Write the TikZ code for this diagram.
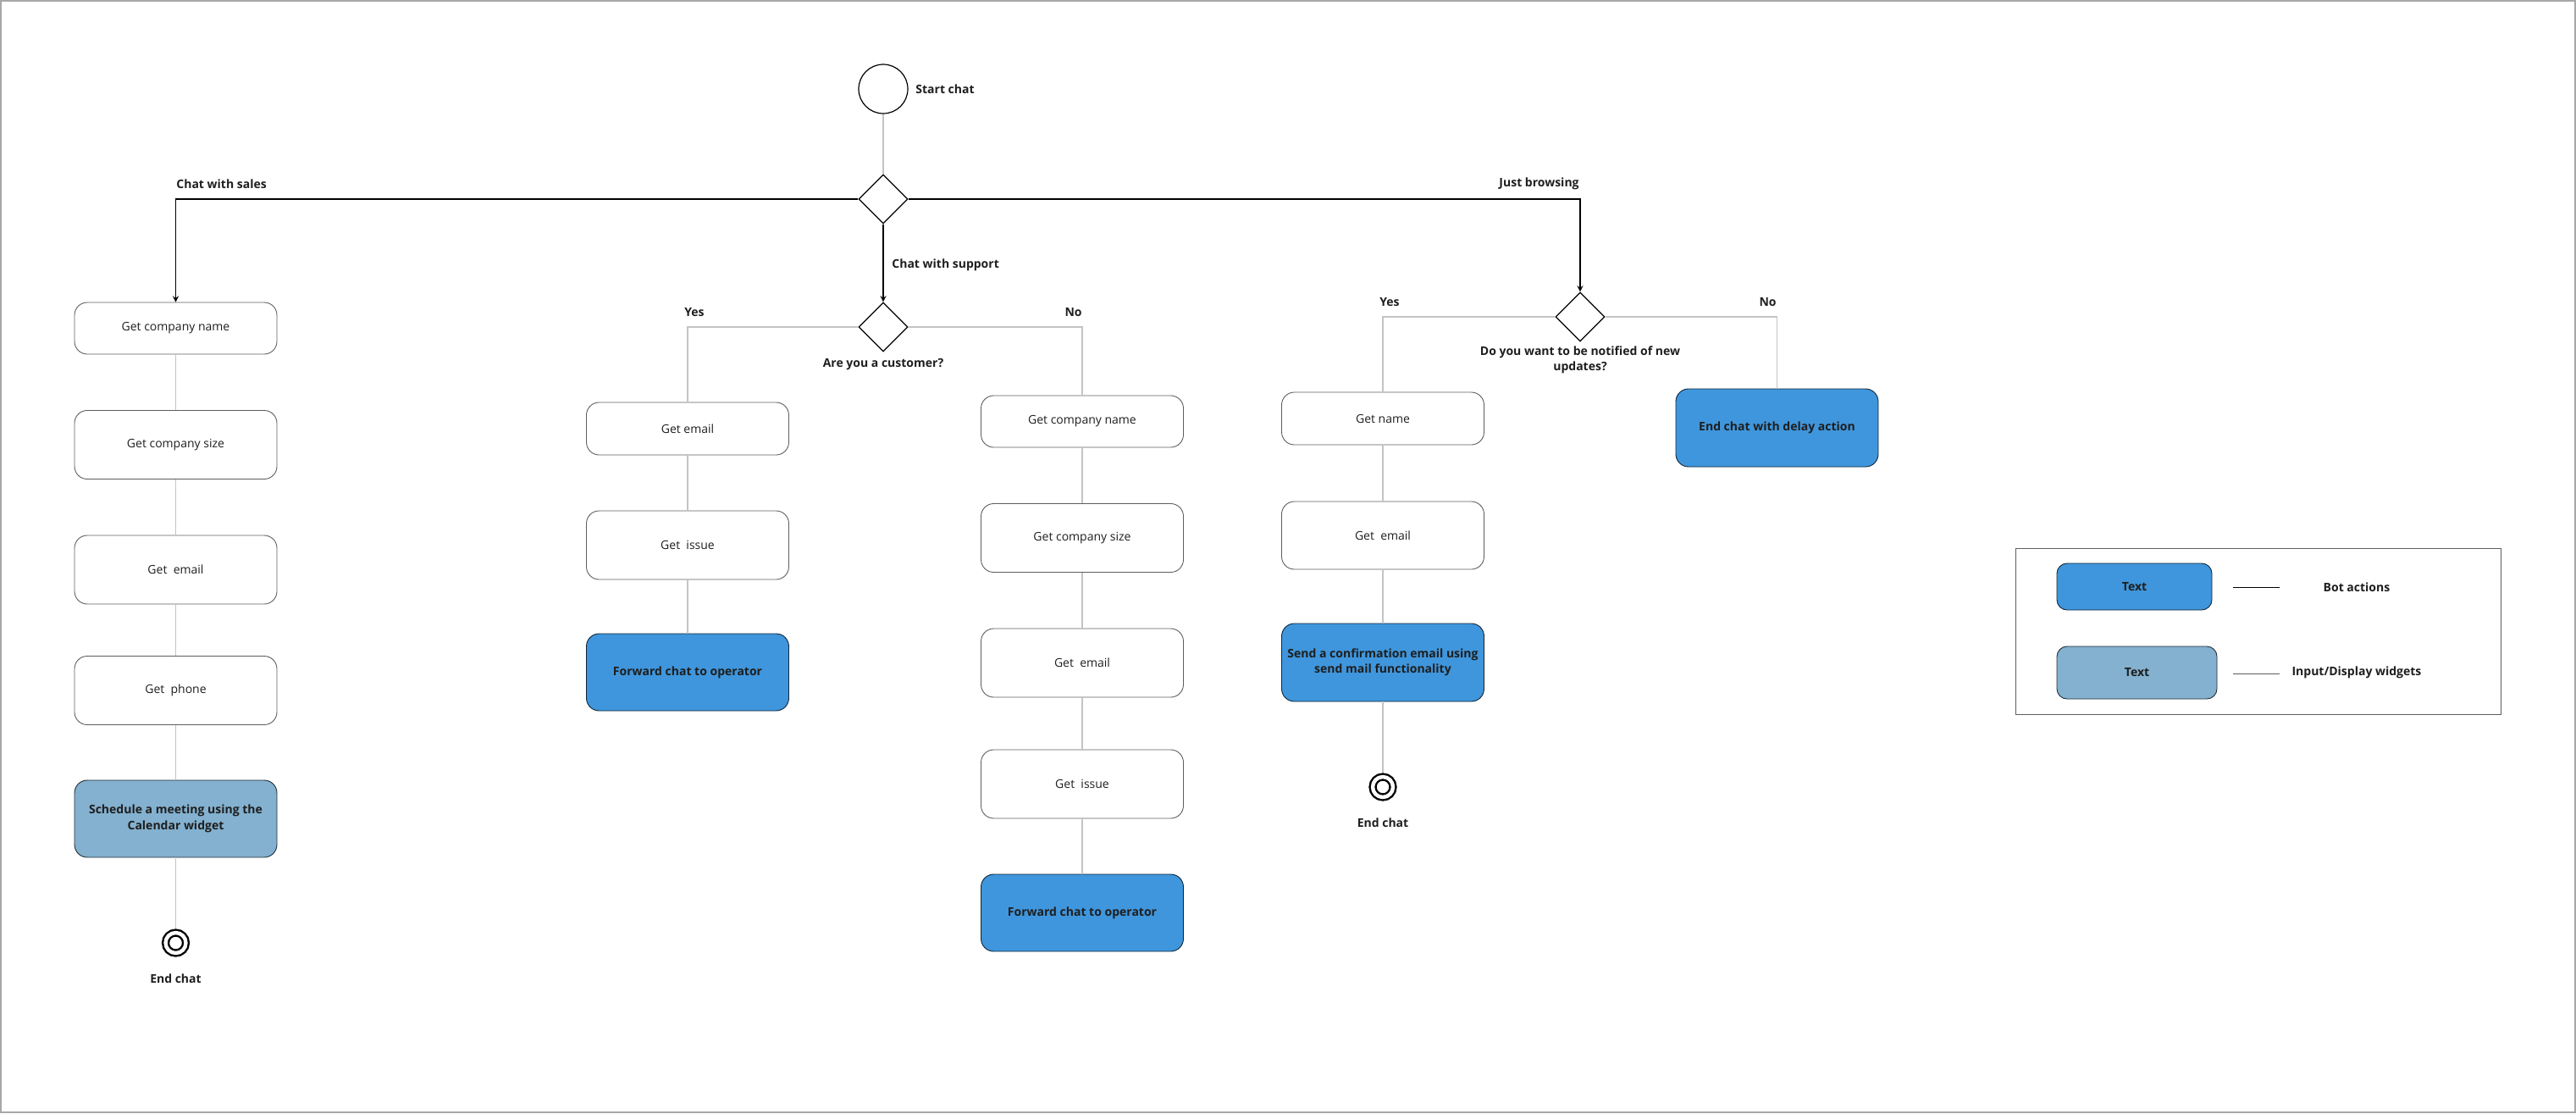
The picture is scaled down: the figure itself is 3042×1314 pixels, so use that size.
\documentclass[tikz,border=0pt]{standalone}
\usepackage{fontspec}
\setmainfont{Open Sans}
\usetikzlibrary{shapes.geometric, arrows}
\definecolor{botblue}{HTML}{3F96DC}
\definecolor{widgetblue}{HTML}{83B1CF}
\definecolor{linegray}{HTML}{C4C4C4}
\definecolor{boxgray}{HTML}{5E5E5E}
\definecolor{framegray}{HTML}{A8A8A8}
\definecolor{inkdark}{HTML}{1E1E1E}
\newcommand{\plainfont}{\fontsize{7}{9.3}\selectfont}
\newcommand{\labelfont}{\bfseries\fontsize{7}{9.3}\selectfont}
\tikzstyle{startstop} = [circle, minimum size=29pt, inner sep=0pt, draw=black, line width=0.6pt]
\tikzstyle{endstop} = [circle, minimum size=12pt, inner sep=0pt, draw=black, line width=1.2pt, double, double distance=2.2pt, outer sep=2.4pt]
\tikzstyle{decision} = [diamond, minimum size=29pt, inner sep=0pt, draw=black, line width=0.6pt]
\tikzstyle{process} = [rectangle, rounded corners=7.5pt, minimum width=119.5pt, minimum height=40.5pt, text centered, align=center, draw=boxgray, line width=0.45pt, text=inkdark, font=\plainfont]
\tikzstyle{botaction} = [process, fill=botblue, draw=black!75!botblue, font=\labelfont, minimum height=45.5pt]
\tikzstyle{widget} = [process, fill=widgetblue, draw=black!75!widgetblue, font=\labelfont, minimum height=45.5pt]
\tikzstyle{lbl} = [inner sep=0pt, text=inkdark, font=\labelfont, align=center]
\tikzstyle{arrow} = [line width=0.6pt,->,>=stealth]
\tikzstyle{link} = [draw=linegray, line width=0.6pt]

\begin{document}
\begin{tikzpicture}[x=0.5pt, y=-0.5pt]
\useasboundingbox (0,0) rectangle (3042,1314);
\draw [framegray, line width=1pt] (1,1) rectangle (3041,1313);

% start and decisions
\node (start) [startstop] at (1043,105) {};
\node (d1) [decision, below of=start, node distance=65pt] {};
\node (d2) [decision, below of=d1, node distance=75.5pt] {};
\node (d3) [decision] at (1866,374) {};

% chat with sales
\node (sname) [process, minimum height=30.5pt] at (207.5,387.5) {Get company name};
\node (ssize) [process, below of=sname, node distance=68.75pt] {Get company size};
\node (semail) [process, below of=ssize, node distance=73.75pt] {Get~~email};
\node (sphone) [process, below of=semail, node distance=71.25pt] {Get~~phone};
\node (sched) [widget, below of=sphone, node distance=75.75pt] {Schedule a meeting using the\\Calendar widget};
\node (send) [endstop, below of=sched, node distance=73.25pt] {};

% chat with support, yes
\node (yemail) [process, minimum height=31pt] at (812,506) {Get email};
\node (yissue) [process, below of=yemail, node distance=68.75pt] {Get~~issue};
\node (yfwd) [botaction, below of=yissue, node distance=75pt] {Forward chat to operator};

% chat with support, no
\node (nname) [process, minimum height=30.5pt] at (1278,497.5) {Get company name};
\node (nsize) [process, below of=nname, node distance=68.75pt] {Get company size};
\node (nemail) [process, below of=nsize, node distance=73.75pt] {Get~~email};
\node (nissue) [process, below of=nemail, node distance=71.5pt] {Get~~issue};
\node (nfwd) [botaction, below of=nissue, node distance=76pt] {Forward chat to operator};

% just browsing
\node (bname) [process, minimum height=31pt] at (1633,494) {Get name};
\node (bemail) [process, minimum height=40pt, below of=bname, node distance=69pt] {Get~~email};
\node (bsend) [botaction, minimum height=46pt, below of=bemail, node distance=75pt] {Send a confirmation email using\\send mail functionality};
\node (bend) [endstop, below of=bsend, node distance=73.5pt] {};
\node (delay) [botaction, minimum height=46pt] at (2098.5,505) {End chat with delay action};

% labels
\node (startlbl) [lbl, anchor=west] at (1081,105) {Start chat};
\node (saleslbl) [lbl, anchor=west] at (208,217) {Chat with sales};
\node (browselbl) [lbl, anchor=east] at (1865,217) {Just browsing};
\node (supportlbl) [lbl, anchor=west] at (1053,313) {Chat with support};
\node (custlbl) [lbl, below of=d2, node distance=22pt] {Are you a customer?};
\node (notifylbl) [lbl, below of=d3, node distance=25.5pt] {Do you want to be notified of new\\updates?};
\node (yes1) [lbl, anchor=west] at (808,369) {Yes};
\node (no1) [lbl, anchor=east] at (1278,369) {No};
\node (yes2) [lbl, anchor=west] at (1629,357) {Yes};
\node (no2) [lbl, anchor=east] at (2098,357) {No};
\node (sendlbl) [lbl, below of=send, node distance=21pt] {End chat};
\node (bendlbl) [lbl, below of=bend, node distance=21pt] {End chat};

% connectors
\draw [link] (start) -- (d1);
\draw [arrow] (d1.west) -| (sname.north);
\draw [arrow] (d1) -- (d2);
\draw [arrow] (d1.east) -| (d3.north);
\draw [link] (d2.west) -| (yemail.north);
\draw [link] (d2.east) -| (nname.north);
\draw [link] (d3.west) -| (bname.north);
\draw [link] (d3.east) -| (delay.north);
\draw [link] (sname) -- (ssize) -- (semail) -- (sphone) -- (sched) -- (send);
\draw [link] (yemail) -- (yissue) -- (yfwd);
\draw [link] (nname) -- (nsize) -- (nemail) -- (nissue) -- (nfwd);
\draw [link] (bname) -- (bemail) -- (bsend) -- (bend);

% legend
\draw [boxgray, line width=0.5pt] (2380,647) rectangle (2953,843);
\node (legbot) [botaction, minimum width=91.5pt, minimum height=27.5pt, rounded corners=6pt] at (2520.5,692.5) {Text};
\node (legwid) [widget, minimum width=94.5pt, minimum height=31pt, rounded corners=6pt] at (2523.5,794) {Text};
\coordinate (lb1) at (2637,693);
\coordinate (lb2) at (2692,693);
\coordinate (lw1) at (2637,795);
\coordinate (lw2) at (2692,795);
\draw [line width=0.45pt] (lb1) -- (lb2);
\draw [boxgray, line width=0.45pt] (lw1) -- (lw2);
\node (botlbl) [lbl] at (2783,693) {Bot actions};
\node (widlbl) [lbl] at (2783,794) {Input/Display widgets};
\end{tikzpicture}
\end{document}
